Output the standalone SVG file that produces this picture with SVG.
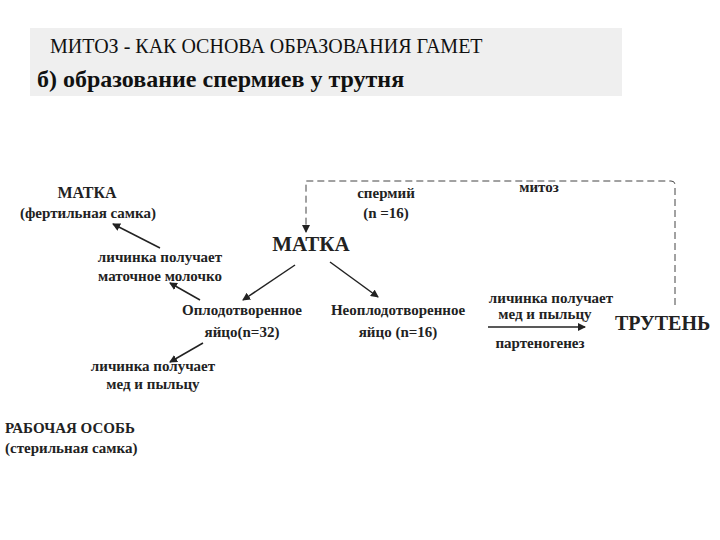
<svg xmlns="http://www.w3.org/2000/svg" width="720" height="540" viewBox="0 0 720 540">
<style>
.t{font-family:"Liberation Serif","Times New Roman","DejaVu Serif",serif;font-weight:bold;fill:#222;font-size:15px}
.c{text-anchor:middle}
.a{stroke:#222;stroke-width:1.5;fill:none}
.h{font-family:"Liberation Serif","Times New Roman","DejaVu Serif",serif;fill:#111}
</style>
<defs><marker id="ah" markerWidth="8" markerHeight="8" refX="7" refY="4" orient="auto" markerUnits="userSpaceOnUse"><path d="M0,0 L8,4 L0,8 Z" fill="#222"/></marker></defs>
<rect width="720" height="540" fill="#fff"/>
<g id="title">
<rect x="30" y="28" width="592" height="68" fill="#efefef"/>
<text class="h" x="50" y="53" font-size="20">МИТОЗ - КАК ОСНОВА ОБРАЗОВАНИЯ ГАМЕТ</text>
<text class="h" x="37" y="87" font-size="24" font-weight="bold">б) образование спермиев у трутня</text>
</g>
<g id="connectors">
<path d="M675,305 V185 Q675,181 671,181 H306 V232" stroke="#444" stroke-width="1" fill="none" stroke-dasharray="7,4" marker-end="url(#ah)"/>
<line class="a" x1="160" y1="248" x2="113" y2="224" marker-end="url(#ah)"/>
<line class="a" x1="200" y1="300" x2="170" y2="283" marker-end="url(#ah)"/>
<line class="a" x1="295" y1="265" x2="243" y2="300" marker-end="url(#ah)"/>
<line class="a" x1="330" y1="262" x2="378" y2="297" marker-end="url(#ah)"/>
<line class="a" x1="203" y1="343" x2="170" y2="362" marker-end="url(#ah)"/>
<line class="a" x1="488" y1="327" x2="585" y2="327" marker-end="url(#ah)"/>
</g>
<g id="matka-fert"><text class="t c" x="87" y="198" style="font-size:16px">МАТКА</text><text class="t c" x="88" y="218">(фертильная самка)</text></g>
<g id="larva1"><text class="t c" x="160" y="262">личинка получает</text><text class="t c" x="160" y="281">маточное молочко</text></g>
<g id="matka"><text class="t c" x="311" y="251" style="font-size:21px">МАТКА</text></g>
<g id="sperm"><text class="t c" x="386" y="198">спермий</text><text class="t c" x="386" y="218">(n =16)</text></g>
<g id="mitoz"><text class="t c" x="539" y="192">митоз</text></g>
<g id="egg1"><text class="t c" x="242" y="315">Оплодотворенное</text><text class="t c" x="242" y="337">яйцо(n=32)</text></g>
<g id="egg2"><text class="t c" x="398" y="315">Неоплодотворенное</text><text class="t c" x="398" y="337">яйцо (n=16)</text></g>
<g id="larva3"><text class="t c" x="551" y="303">личинка получает</text><text class="t c" x="545" y="319">мед и пыльцу</text><text class="t c" x="540" y="348">партеногенез</text></g>
<g id="drone"><text class="t" x="615" y="330" style="font-size:20px">ТРУТЕНЬ</text></g>
<g id="larva2"><text class="t c" x="153" y="371">личинка получает</text><text class="t c" x="153" y="389">мед и пыльцу</text></g>
<g id="worker"><text class="t" x="5" y="433">РАБОЧАЯ ОСОБЬ</text><text class="t" x="5" y="453">(стерильная самка)</text></g>
</svg>
